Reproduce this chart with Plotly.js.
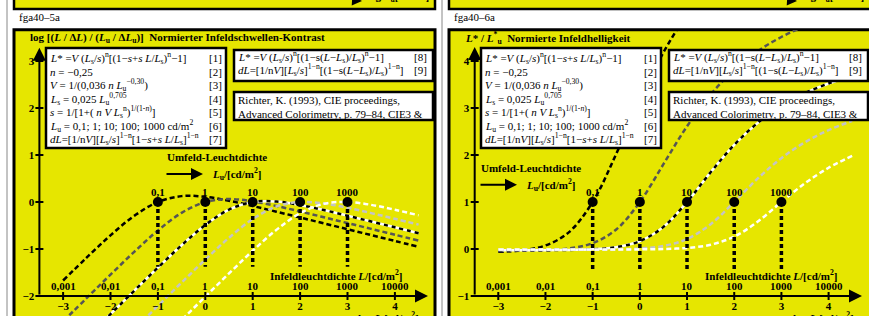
<!DOCTYPE html>
<html><head><meta charset="utf-8">
<script src="https://cdn.plot.ly/plotly-3.0.1.min.js"></script>
<style>html,body{margin:0;padding:0;background:#fff;}#chart{width:869px;height:316px;}</style>
</head><body><div id="chart"></div>
<script>
// ---------- data ----------
const logL = [-3,-2.5,-2,-1.5,-1,-0.5,0,0.5,1,1.5,2,2.5,3,3.5,4,4.5];
const surroundLu = [0.1, 1, 10, 100, 1000];
const surroundLabels = ['0,1','1','10','100','1000'];

// left panel: log[(L/dL)/(Lu/dLu)]
const contrastLu01   = [-1.670,-1.180,-0.710,-0.295,0,0.125,0.111,0.026,-0.085,-0.206,-0.330,-0.454,-0.579,-0.704,-0.829,-0.954];
const contrastLu1    = [-2.539,-2.041,-1.546,-1.061,-0.607,-0.230,0,0.063,0.014,-0.085,-0.201,-0.324,-0.448,-0.572,-0.697,-0.822];
const contrastLu10   = [-3.385,-2.885,-2.386,-1.889,-1.396,-0.920,-0.489,-0.162,0,0.010,-0.064,-0.172,-0.292,-0.415,-0.539,-0.664];
const contrastLu100  = [-4.208,-3.708,-3.208,-2.709,-2.210,-1.714,-1.226,-0.762,-0.363,-0.096,0,-0.031,-0.123,-0.237,-0.358,-0.482];
const contrastLu1000 = [-5.011,-4.511,-4.011,-3.511,-3.011,-2.512,-2.014,-1.520,-1.038,-0.593,-0.238,-0.038,0,-0.061,-0.165,-0.283];

// right panel: L*/L*u
const lightLu01   = [-0.061,-0.027,0.075,0.360,1,2.025,3.171,4.183,4.987,5.602,6.070,6.414,6.676,6.872,7.019,7.129];
const lightLu1    = [-0.043,-0.039,-0.027,0.012,0.124,0.416,1,1.805,2.611,3.286,3.812,4.211,4.511,4.737,4.906,5.033];
const lightLu10   = [-0.027,-0.027,-0.025,-0.020,-0.006,0.039,0.167,0.471,1,1.633,2.215,2.684,3.045,3.317,3.522,3.676];
const lightLu100  = [-0.017,-0.017,-0.017,-0.016,-0.015,-0.009,0.010,0.064,0.212,0.527,1,1.501,1.933,2.272,2.531,2.726];
const lightLu1000 = [-0.012,-0.012,-0.012,-0.011,-0.011,-0.010,-0.008,0.000,0.023,0.091,0.263,0.584,1,1.399,1.728,1.982];

const xTickVals = [-3,-2,-1,0,1,2,3,4];
const xTickText = ['−3','−2','−1','0','1','2','3','4'];
const lumTickText = ['0,001','0,01','0,1','1','10','100','1000','10000'];
const yTickValsLeft = [-2,-1,0,1,2,3];
const yTickTextLeft = ['−2','−1','0','1','2','3'];
const yTickValsRight = [-1,0,1,2,3,4];
const yTickTextRight = ['−1','0','1','2','3','4'];

// ---------- layout helpers ----------
const W = 869, H = 316;
const P = px => px / W;
const Q = py => 1 - py / H;
const SERIF = '"Liberation Serif", "Times New Roman", Times, serif';
const YEL = '#e6e600';
const F = (size, bold, color) => ({family: SERIF, size: size, color: color || '#000', weight: bold ? 'bold' : 'normal'});

const panels = [
  {dx: 0,   xa: 'x',  ya: 'y',  xk: 'xaxis',  yk: 'yaxis',  x0: 205.3, sx: 47.4, yoff: 0,
   series: [contrastLu01, contrastLu1, contrastLu10, contrastLu100, contrastLu1000],
   yVals: yTickValsLeft, yText: yTickTextLeft, dotY: 0, dropTo: -1.38, yTop: 3.28},
  {dx: 435, xa: 'x2', ya: 'y2', xk: 'xaxis2', yk: 'yaxis2', x0: 640.3, sx: 47.3, yoff: 1,
   series: [lightLu01, lightLu1, lightLu10, lightLu100, lightLu1000],
   yVals: yTickValsRight, yText: yTickTextRight, dotY: 1, dropTo: -0.48, yTop: 4.30}
];
const SY = 47, Y0PX = 202;

const styles = [
  {color: '#000000', dash: '5px,3px'},
  {color: '#555555', dash: '5px,3px'},
  {color: '#000000', dash: '4px,4px', under: '#ffffff'},
  {color: '#c4c4c4', dash: '5px,3px'},
  {color: '#ffffff', dash: '5px,3px'}
];

const traces = [];
const shapes = [];
const annotations = [];
const layout = {
  width: W, height: H, margin: {l: 0, r: 0, t: 0, b: 0},
  paper_bgcolor: '#ffffff', plot_bgcolor: 'rgba(0,0,0,0)',
  showlegend: false, shapes: shapes, annotations: annotations
};

function txt(px, py, text, o) {
  return Object.assign({xref: 'paper', yref: 'paper', x: P(px), y: Q(py), text: text,
    showarrow: false, xanchor: 'left', yanchor: 'middle', font: F(11, false)}, o || {});
}

// page frame lines
[7, 442].forEach(x => shapes.push({type: 'line', xref: 'paper', yref: 'paper',
  x0: P(x), x1: P(x), y0: Q(-5), y1: Q(330), line: {color: '#888', width: 1}, layer: 'below'}));

const box1 = [
  '<i>L</i>* =<i>V</i> (<i>L</i><sub>s</sub>/<i>s</i>)<sup>n</sup>[(1−<i>s</i>+<i>s L</i>/<i>L</i><sub>s</sub>)<sup>n</sup>−1]',
  '<i>n</i> = −0,25',
  '<i>V</i> = 1/(0,036 <i>n L</i><sub>u</sub><sup>−0,30</sup>)',
  '<i>L</i><sub>s</sub> = 0,025 <i>L</i><sub>u</sub><sup>0,705</sup>',
  '<i>s</i> = 1/[1+( <i>n V L</i><sub>s</sub><sup>n</sup>)<sup>1/(1-<i>n</i>)</sup>]',
  '<i>L</i><sub>u</sub> = 0,1; 1; 10; 100; 1000 cd/m<sup>2</sup>',
  '<i>dL</i>=[1/n<i>V</i>][<i>L</i><sub>s</sub>/<i>s</i>]<sup>1−n</sup>[1−<i>s</i>+<i>s L</i>/<i>L</i><sub>s</sub>]<sup>1−n</sup>'
];
const box2 = [
  '<i>L</i>* =<i>V</i> (<i>L</i><sub>s</sub>/<i>s</i>)<sup>n</sup>[(1−s(<i>L</i>−<i>L</i><sub>s</sub>)/<i>L</i><sub>s</sub>)<sup>n</sup>−1]',
  '<i>dL</i>=[1/n<i>V</i>][<i>L</i><sub>s</sub>/<i>s</i>]<sup>1−n</sup>[(1−s(<i>L</i>−<i>L</i><sub>s</sub>)/<i>L</i><sub>s</sub>)<sup>1−n</sup>]'
];
const box3 = ['Richter, K. (1993), CIE proceedings,', 'Advanced Colorimetry, p. 79–84, CIE3 &'];

panels.forEach((p, k) => {
  const dx = p.dx;
  // axes
  const xr = [(dx + 14 - p.x0) / p.sx, (dx + 435 - p.x0) / p.sx];
  const yr = [(Y0PX - 316) / SY + p.yoff, (Y0PX - 30) / SY + p.yoff];
  layout[p.xk] = {domain: [P(dx + 14), k === 0 ? P(435) : 1], range: xr, anchor: 'free',
    position: Q(296), showgrid: false, zeroline: false, showline: false,
    tickmode: 'array', tickvals: xTickVals, ticktext: xTickText, ticks: '',
    tickfont: F(11, true), ticklabelstandoff: 2, fixedrange: true};
  layout[p.yk] = {domain: [0, Q(30)], range: yr, anchor: 'free',
    position: P(dx + 39.3), showgrid: false, zeroline: false, showline: false,
    tickmode: 'array', tickvals: p.yVals, ticktext: p.yText, ticks: '',
    tickfont: F(11, true), ticklabelstandoff: 5, fixedrange: true};

  const yAxisAt = p.yoff - 2; // data y of the x axis line
  const xAxisAt = -3.5;       // data x of the y axis line

  // panel backgrounds
  shapes.push({type: 'rect', xref: 'paper', yref: 'paper', x0: P(dx + 14), x1: P(k === 0 ? 435 : 880),
    y0: Q(-6), y1: Q(9), fillcolor: YEL, line: {color: '#000', width: 2.5}, layer: 'below'});
  shapes.push({type: 'rect', xref: 'paper', yref: 'paper', x0: P(dx + 14), x1: P(k === 0 ? 435 : 880),
    y0: Q(335), y1: Q(29.7), fillcolor: YEL, line: {color: '#000', width: 3}, layer: 'below'});

  // boxes
  [[46, 226, 48, 148], [234, 433, 50, 81], [234, 433, 92, 120]].forEach(b => shapes.push({
    type: 'rect', xref: 'paper', yref: 'paper', x0: P(dx + b[0]), x1: P(dx + b[1]), y0: Q(b[3]), y1: Q(b[2]),
    fillcolor: '#ffffff', line: {color: '#000', width: 2.5}, layer: 'above'}));

  // tick marks crossing the axes
  xTickVals.forEach(t => shapes.push({type: 'line', xref: p.xa, yref: p.ya, x0: t, x1: t,
    y0: yAxisAt - 4 / SY, y1: yAxisAt + 4 / SY, line: {color: '#000', width: 2}}));
  p.yVals.forEach(t => shapes.push({type: 'line', xref: p.xa, yref: p.ya, x0: xAxisAt - 4 / p.sx, x1: xAxisAt + 4 / p.sx,
    y0: t, y1: t, line: {color: '#000', width: 2}}));

  // curves
  p.series.forEach((ys, i) => {
    const s = styles[i];
    if (s.under) traces.push({type: 'scatter', mode: 'lines', x: logL, y: ys, xaxis: p.xa, yaxis: p.ya,
      line: {color: s.under, width: 2.5, shape: 'spline'}, hoverinfo: 'skip'});
    traces.push({type: 'scatter', mode: 'lines', x: logL, y: ys, xaxis: p.xa, yaxis: p.ya,
      line: {color: s.color, width: 2.5, dash: s.dash, shape: 'spline'}, hoverinfo: 'skip'});
  });

  // drop lines and dots
  const dropX = [], dropY = [];
  surroundLu.forEach(v => { const lx = Math.log10(v); dropX.push(lx, lx, null); dropY.push(p.dotY, p.dropTo, null); });
  traces.push({type: 'scatter', mode: 'lines', x: dropX, y: dropY, xaxis: p.xa, yaxis: p.ya,
    line: {color: '#000', width: 3.5, dash: '4px,3px'}, hoverinfo: 'skip'});
  traces.push({type: 'scatter', mode: 'markers', x: surroundLu.map(v => Math.log10(v)),
    y: surroundLu.map(() => p.dotY), xaxis: p.xa, yaxis: p.ya,
    marker: {color: '#000', size: 10}, hoverinfo: 'skip'});
  surroundLu.forEach((v, i) => annotations.push({xref: p.xa, yref: p.ya, x: Math.log10(v), y: p.dotY,
    text: surroundLabels[i], showarrow: false, xanchor: 'center', yanchor: 'middle', yshift: 10, font: F(11, true)}));

  // luminance labels above x axis
  xTickVals.forEach((t, i) => annotations.push({xref: p.xa, yref: p.ya, x: t, y: yAxisAt,
    text: lumTickText[i], showarrow: false, xanchor: 'center', yanchor: 'middle', yshift: 10.5, font: F(11, true)}));

  // axis arrows
  annotations.push({xref: p.xa, yref: p.ya, axref: p.xa, ayref: p.ya, x: (dx + 428 - p.x0) / p.sx, y: yAxisAt,
    ax: xAxisAt, ay: yAxisAt, text: '', showarrow: true, arrowhead: 2, arrowsize: 1.3, arrowwidth: 2, arrowcolor: '#000', standoff: 0});
  annotations.push({xref: p.xa, yref: p.ya, axref: p.xa, ayref: p.ya, x: xAxisAt, y: p.yTop,
    ax: xAxisAt, ay: yAxisAt, text: '', showarrow: true, arrowhead: 2, arrowsize: 1.3, arrowwidth: 2, arrowcolor: '#000', standoff: 0});

  // texts
  annotations.push(txt(dx + 17, 17, k === 0 ? 'fga40–5a' : 'fga40–6a'));
  annotations.push(txt(dx + 28, 38.5, k === 0
    ? 'log [(<i>L</i> / Δ<i>L</i>) / (<i>L</i><sub>u</sub> / Δ<i>L</i><sub>u</sub>)]\u00a0 Normierter Infeldschwellen-Kontrast'
    : '<i>L</i>* / <i>L</i><sup>*</sup><sub>u</sub>\u00a0 Normierte Infeldhelligkeit', {font: F(11, true)}));
  box1.forEach((t, i) => {
    annotations.push(txt(dx + 48, 58.3 + 13.5 * i, t));
    annotations.push(txt(dx + 224, 58.3 + 13.5 * i, '[' + (i + 1) + ']', {xanchor: 'right'}));
  });
  box2.forEach((t, i) => {
    annotations.push(txt(dx + 236, 56.7 + 13.3 * i, t));
    annotations.push(txt(dx + 429, 56.7 + 13.3 * i, '[' + (i + 8) + ']', {xanchor: 'right'}));
  });
  box3.forEach((t, i) => annotations.push(txt(dx + 236, 101 + 13 * i, t)));

  const uX = k === 0 ? 165 : 479 - 435, uY = k === 0 ? 157 : 167.7;
  annotations.push(txt(dx + uX, uY, 'Umfeld-Leuchtdichte', {font: F(11, true)}));
  annotations.push({xref: 'paper', yref: 'paper', x: P(dx + uX + 38), y: Q(uY + 17), ax: -38, ay: 0,
    text: '', showarrow: true, arrowhead: 2, arrowsize: 1.2, arrowwidth: 2, arrowcolor: '#000', standoff: 0});
  annotations.push(txt(dx + uX + 45, uY + 17, '<i>L</i><sub>u</sub>/[cd/m<sup>2</sup>]', {font: F(11, true)}));
  annotations.push(txt(dx + 268, 274.5, 'Infeldleuchtdichte <i>L</i>/[cd/m<sup>2</sup>]', {font: F(11, true)}));

  // partly visible texts at the image edges
  annotations.push(txt(dx + 365, -4, 'log <i>L</i><sub>u</sub>[cd/m<sup>2</sup>]', {font: F(11, true)}));
  annotations.push({xref: 'paper', yref: 'paper', x: P(dx + 362), y: Q(0.5), ax: -9, ay: 0, text: '',
    showarrow: true, arrowhead: 2, arrowsize: 1, arrowwidth: 2, arrowcolor: '#000', standoff: 0});
  annotations.push(txt(dx + 356, 316.5, 'log <i>L</i> [cd/m<sup>2</sup>]', {font: F(11, true)}));
});

Plotly.newPlot('chart', traces, layout, {displayModeBar: false, staticPlot: true});
</script></body></html>
